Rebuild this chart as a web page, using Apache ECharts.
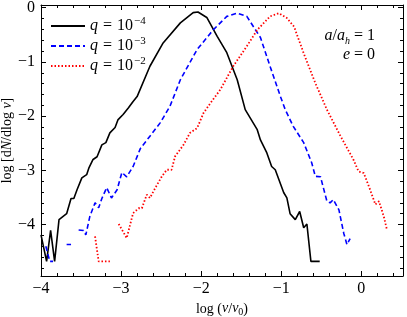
<!DOCTYPE html>
<html><head><meta charset="utf-8">
<script src="https://cdn.jsdelivr.net/npm/echarts@6/dist/echarts.min.js"></script>
<style>html,body{margin:0;padding:0;background:#fff}#c{width:407px;height:317px}</style>
</head><body><div id="c"></div>
<script>
// q = 1e-4 (black, solid)
var blackX = [-4.0,-3.93,-3.88,-3.83,-3.775,-3.68,-3.625,-3.59,-3.55,-3.49,-3.43,-3.40,-3.35,-3.30,-3.24,-3.19,-3.14,-3.075,-3.04,-2.975,-2.91,-2.85,-2.80,-2.64,-2.475,-2.26,-2.10,-2.04,-1.93,-1.80,-1.68,-1.55,-1.45,-1.30,-1.26,-1.18,-1.12,-1.075,-0.97,-0.93,-0.89,-0.825,-0.77,-0.72,-0.68,-0.63,-0.52];
var blackY = [-4.19,-4.68,-4.11,-4.68,-3.91,-3.80,-3.52,-3.52,-3.36,-3.14,-3.08,-2.95,-2.80,-2.75,-2.53,-2.49,-2.31,-2.21,-2.07,-1.97,-1.85,-1.73,-1.64,-1.08,-0.65,-0.28,-0.09,-0.08,-0.18,-0.53,-0.83,-1.33,-1.88,-2.25,-2.44,-2.68,-2.93,-2.99,-3.41,-3.51,-3.80,-3.91,-3.76,-4.06,-3.99,-4.68,-4.68];
// q = 1e-3 (blue, dashed); null = empty bin
var blueX = [-3.94,-3.89,-3.85,-3.76,-3.68,-3.625,-3.58,-3.53,-3.47,-3.44,-3.39,-3.325,-3.28,-3.24,-3.18,-3.12,-3.05,-2.99,-2.93,-2.85,-2.76,-2.64,-2.51,-2.39,-2.26,-2.05,-1.85,-1.68,-1.55,-1.43,-1.26,-1.14,-1.01,-0.95,-0.85,-0.72,-0.62,-0.575,-0.51,-0.43,-0.39,-0.35,-0.28,-0.22,-0.18,-0.14];
var blueY = [-4.40,-4.68,-4.68,null,-4.37,-4.37,null,-4.10,-4.11,-4.19,-3.85,-3.60,-3.69,-3.52,-3.32,-3.51,-3.36,-3.04,-3.12,-2.93,-2.60,-2.37,-2.12,-1.82,-1.33,-0.77,-0.41,-0.16,-0.10,-0.16,-0.55,-1.08,-1.64,-1.88,-2.19,-2.49,-2.86,-3.11,-3.12,-3.57,-3.60,-3.54,-3.73,-4.16,-4.37,-4.26];
// q = 1e-2 (red, dotted)
var redX = [-3.325,-3.28,-3.14,-3.09,-3.03,-2.93,-2.85,-2.78,-2.74,-2.68,-2.64,-2.575,-2.49,-2.43,-2.37,-2.325,-2.22,-2.14,-2.05,-1.97,-1.87,-1.76,-1.60,-1.43,-1.30,-1.14,-1.03,-0.93,-0.84,-0.72,-0.575,-0.43,-0.26,-0.10,-0.035,0.03,0.11,0.175,0.22,0.28,0.32];
var redY = [-4.22,-4.68,-4.68,null,-3.99,-4.25,-3.79,-3.70,-3.70,-3.45,-3.51,-3.33,-3.11,-2.99,-2.99,-2.74,-2.53,-2.31,-2.22,-1.94,-1.73,-1.51,-1.08,-0.71,-0.41,-0.16,-0.10,-0.19,-0.35,-0.84,-1.39,-1.88,-2.37,-2.80,-3.02,-3.05,-3.36,-3.63,-3.57,-3.85,-4.10];
var xTicks = [-4,-3,-2,-1,0];
var yTicks = [-4,-3,-2,-1,0];
var xRange = [-4, 0.52];
var yRange = [-4.95, 0.05];

function pairs(xs, ys){ return xs.map(function(x,i){ return [x, ys[i]===null ? '-' : ys[i]]; }); }
function minors(ticks, lo, hi){
  var out = [];
  for (var k = -30; k <= 30; k++) { var v = Math.round(k*0.2*1000)/1000; if (v >= lo && v <= hi) out.push(v); }
  return out;
}
var FONT = '"Liberation Serif","DejaVu Serif",serif';
var chart = echarts.init(document.getElementById('c'), null, {renderer:'canvas'});
function fmt(v){ v = Math.round(v); return v<0 ? '\u2212'+Math.abs(v) : String(v); }
var xMinor = minors(xTicks, xRange[0], xRange[1]);
var yMinor = minors(yTicks, yRange[0], yRange[1]);
function axis(kind, pos, major, extra){
  var r = kind==='x' ? xRange : yRange;
  var a = {type:'value',min:r[0],max:r[1],position:pos,
    axisLine:{show:major,onZero:false,lineStyle:{color:'#000',width:1}},
    axisTick:{show:true,inside:true,length:major?5:3,lineStyle:{color:'#000',width:1},
      customValues: major ? (kind==='x'?xTicks:yTicks) : (kind==='x'?xMinor:yMinor)},
    axisLabel:{show:false},
    minorTick:{show:false},splitLine:{show:false}};
  return Object.assign(a, extra||{});
}
var legendRich = {
  i:{fontFamily:FONT,fontStyle:'italic',fontSize:16,color:'#000',verticalAlign:'bottom',lineHeight:16},
  e:{fontFamily:FONT,fontSize:16,color:'#000',verticalAlign:'bottom',lineHeight:16,padding:[0,5,0,5]},
  n:{fontFamily:FONT,fontSize:16,color:'#000',verticalAlign:'bottom',lineHeight:16},
  s:{fontFamily:FONT,fontSize:11,color:'#000',padding:[0,0,7,1],verticalAlign:'bottom',lineHeight:11}
};
var legendNames = {'q4':'{i|q}{e|=}{n|10}{s|\u22124}','q3':'{i|q}{e|=}{n|10}{s|\u22123}','q2':'{i|q}{e|=}{n|10}{s|\u22122}'};
chart.setOption({
  animation:false,
  backgroundColor:'#fff',
  grid:{left:41,right:4,top:5,bottom:41,containLabel:false,outerBoundsMode:'none'},
  legend:{
    orient:'vertical',left:45,top:11,itemWidth:34,itemHeight:14,itemGap:2,
    data:['q4','q3','q2'],
    itemStyle:{opacity:0},
    formatter:function(n){return legendNames[n];},
    textStyle:{fontFamily:FONT,fontSize:16,color:'#000',rich:legendRich}
  },
  xAxis:[
    axis('x','bottom',true,{
      axisLabel:{show:true,customValues:xTicks,formatter:fmt,fontFamily:FONT,fontSize:16,color:'#000',margin:5},
      name:'log ({i|v}/{i|v}{sub|0})',nameLocation:'middle',nameGap:25,nameMoveOverlap:false,
      nameTextStyle:{fontFamily:FONT,fontSize:14,color:'#000',rich:{
        i:{fontFamily:FONT,fontStyle:'italic',fontSize:14,color:'#000',verticalAlign:'top'},
        sub:{fontFamily:FONT,fontSize:10,color:'#000',padding:[6,0,0,0],verticalAlign:'top'}}}
    }),
    axis('x','bottom',false),
    axis('x','top',true),
    axis('x','top',false)
  ],
  yAxis:[
    axis('y','left',true,{
      axisLabel:{show:true,customValues:yTicks,formatter:fmt,fontFamily:FONT,fontSize:16,color:'#000',margin:6},
      name:'log [d{i|N}/dlog {i|v}]',nameLocation:'middle',nameGap:27,nameRotate:90,nameMoveOverlap:false,
      nameTextStyle:{fontFamily:FONT,fontSize:14,color:'#000',rich:{
        i:{fontFamily:FONT,fontStyle:'italic',fontSize:14,color:'#000'}}}
    }),
    axis('y','left',false),
    axis('y','right',true),
    axis('y','right',false)
  ],
  graphic:[
    {type:'text',right:32,top:28,style:{rich:{
      i:{fontFamily:FONT,fontStyle:'italic',fontSize:16,fill:'#000',verticalAlign:'bottom',lineHeight:16},
      n:{fontFamily:FONT,fontSize:16,fill:'#000',verticalAlign:'bottom',lineHeight:16},
      e:{fontFamily:FONT,fontSize:16,fill:'#000',verticalAlign:'bottom',lineHeight:16,padding:[0,4,0,4]},
      sub:{fontFamily:FONT,fontStyle:'italic',fontSize:10,fill:'#000',verticalAlign:'bottom',lineHeight:10,padding:[0,0,-2,0]}},
      text:'{i|a}{n|/}{i|a}{sub|h}{e|=}{n|1}'}},
    {type:'text',right:32,top:47,style:{rich:{
      i:{fontFamily:FONT,fontStyle:'italic',fontSize:16,fill:'#000',lineHeight:16},
      e:{fontFamily:FONT,fontSize:16,fill:'#000',lineHeight:16,padding:[0,4,0,4]},
      n:{fontFamily:FONT,fontSize:16,fill:'#000',lineHeight:16}},
      text:'{i|e}{e|=}{n|0}'}}
  ],
  series:[
    {name:'q4',type:'line',data:pairs(blackX,blackY),showSymbol:false,symbol:'none',connectNulls:false,
     lineStyle:{color:'#000',width:1.6,type:'solid'},itemStyle:{color:'#000'}},
    {name:'q3',type:'line',data:pairs(blueX,blueY),showSymbol:false,symbol:'none',connectNulls:false,
     lineStyle:{color:'#0000ff',width:1.6,type:[5,3]},itemStyle:{color:'#0000ff'}},
    {name:'q2',type:'line',data:pairs(redX,redY),showSymbol:false,symbol:'none',connectNulls:false,
     lineStyle:{color:'#ff0000',width:1.8,type:[1.5,2]},itemStyle:{color:'#ff0000'}}
  ]
});
</script></body></html>
